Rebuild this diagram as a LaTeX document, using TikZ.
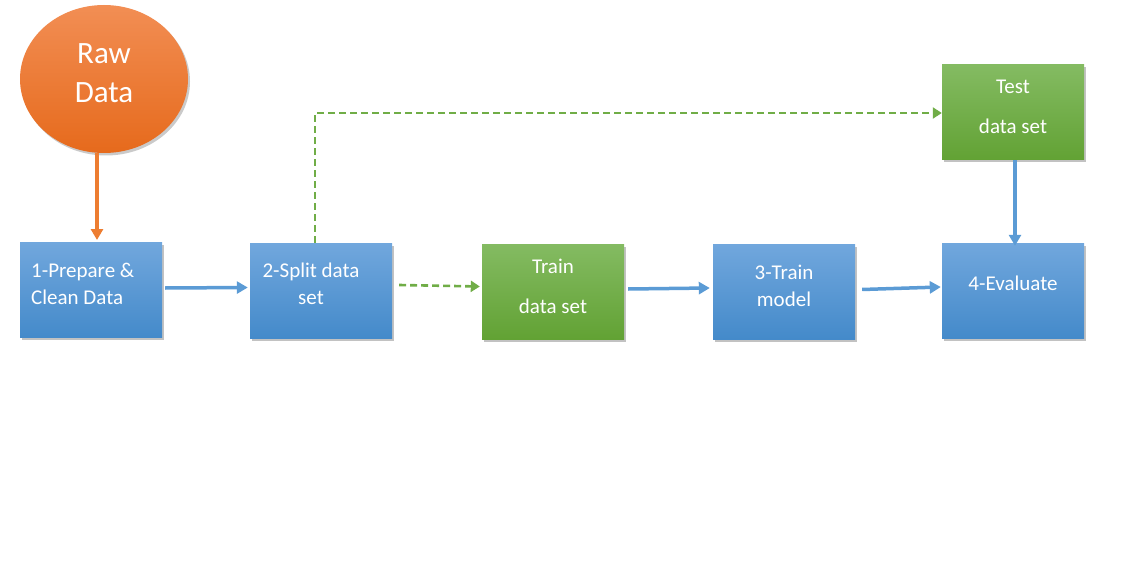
\documentclass[tikz,border=0pt]{standalone}
\usepackage{fontspec}
\setmainfont{Carlito}
\usetikzlibrary{arrows.meta,shadows,shapes.geometric}
\definecolor{bluetop}{RGB}{113,167,221}
\definecolor{bluebot}{RGB}{68,138,202}
\definecolor{greentop}{RGB}{132,187,98}
\definecolor{greenbot}{RGB}{98,162,52}
\definecolor{orangetop}{RGB}{242,142,84}
\definecolor{orangebot}{RGB}{230,106,28}
\definecolor{arrowblue}{RGB}{91,155,213}
\definecolor{arroworange}{RGB}{237,125,49}
\definecolor{arrowgreen}{RGB}{112,173,71}
\tikzset{
  boxbase/.style={rectangle, minimum width=142pt, minimum height=95pt, inner sep=0pt,
    drop shadow={shadow xshift=2pt, shadow yshift=-2.5pt, opacity=0.4, fill=black!60}},
  bluebox/.style={boxbase, top color=bluetop, bottom color=bluebot},
  greenbox/.style={boxbase, top color=greentop, bottom color=greenbot},
  txt/.style={text=white, font=\fontsize{21}{27}\selectfont, inner sep=0pt},
  bigtxt/.style={text=white, font=\fontsize{31}{39}\selectfont, inner sep=0pt, align=center},
  bluearrow/.style={draw=arrowblue, line width=3.5pt, -{Triangle[length=11pt,width=12pt]}},
  orangearrow/.style={draw=arroworange, line width=3.2pt, -{Triangle[length=11pt,width=12pt]}},
  greenarrow/.style={draw=arrowgreen, line width=2.6pt, dash pattern=on 7pt off 4pt, -{Triangle[length=9pt,width=11pt]}}
}
\begin{document}
\begin{tikzpicture}[x=1pt,y=-1pt]
\useasboundingbox (0,0) rectangle (1136,583);
% Raw data ellipse
\node[ellipse, minimum width=168pt, minimum height=148pt, inner sep=0pt,
  top color=orangetop, bottom color=orangebot,
  drop shadow={shadow xshift=2pt, shadow yshift=-2.5pt, opacity=0.35, fill=black!60}] (raw) at (104,79) {};
\node[bigtxt] (rawt) at (104,73) {Raw\\Data};
% boxes
\node[bluebox] (b1) at (91,290) {};
\node[bluebox] (b2) at (321,290.5) {};
\node[greenbox] (tr) at (553,291.5) {};
\node[bluebox] (b3) at (784,291.5) {};
\node[greenbox] (te) at (1013,112.5) {};
\node[bluebox] (b4) at (1013,290.5) {};
% texts
\node[txt, align=left, anchor=west] (b1t) at (31,284) {1-Prepare \&\\Clean Data};
\node[txt, align=center] (b2t) at (311,284) {2-Split data\\set};
\node[txt, align=center] (trt) at (553,286) {Train\\[13pt]data set};
\node[txt, align=center] (b3t) at (784,286) {3-Train\\model};
\node[txt, align=center] (b4t) at (1013,283) {4-Evaluate};
\node[txt, align=center] (tet) at (1013,107) {Test\\[13pt]data set};
% connectors
\coordinate (c1) at (315,113);
\draw[orangearrow] (raw.south -| 97,0) -- (97,240);
\draw[bluearrow] ([xshift=3pt,yshift=2pt]b1.east) -- ([xshift=-2pt,yshift=3pt]b2.west);
\draw[greenarrow] ([xshift=7pt,yshift=5.5pt]b2.east) -- ([xshift=-2pt,yshift=5pt]tr.west);
\draw[bluearrow] ([xshift=4pt,yshift=2.5pt]tr.east) -- ([xshift=-3pt,yshift=3.5pt]b3.west);
\draw[bluearrow] ([xshift=7pt,yshift=2pt]b3.east) -- ([xshift=-1pt,yshift=3.5pt]b4.west);
\draw[bluearrow] (te.south -| 1015,0) -- ([yshift=-3pt]b4.north -| 1015,0);
\draw[greenarrow] (b2.north -| 315,0) -- (c1) -- (te.west |- c1);
\end{tikzpicture}
\end{document}
